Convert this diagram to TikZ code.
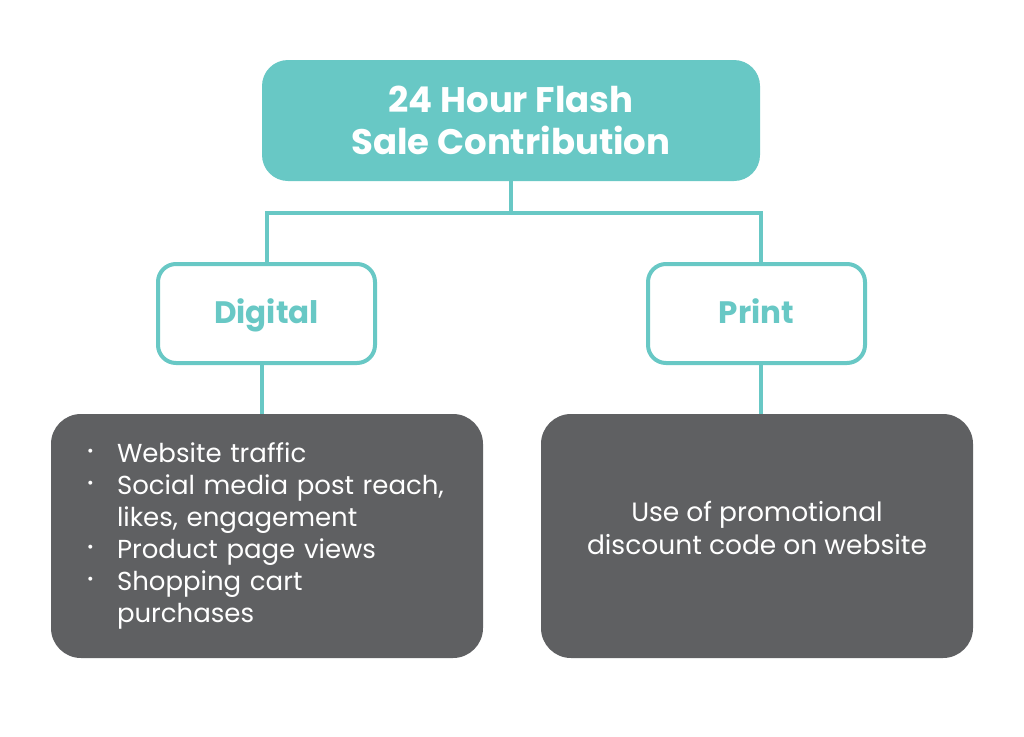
\documentclass[tikz,border=0pt]{standalone}
\usepackage{fontspec}
\setmainfont{Poppins}
\definecolor{tealc}{HTML}{68C8C5}
\definecolor{darkg}{HTML}{5F6062}
\newcommand\bul{\makebox[30pt][l]{\raisebox{6pt}{\fontsize{16}{16}\selectfont\textbullet}}}
\begin{document}
\begin{tikzpicture}[x=1pt,y=-1pt,
  titlebox/.style={fill=tealc, rounded corners=26pt, minimum width=498pt, minimum height=121pt,
    text=white, font=\bfseries\fontsize{35.5}{42}\selectfont, align=center, inner sep=0pt},
  catbox/.style={draw=tealc, line width=4pt, fill=white, rounded corners=18pt,
    minimum width=217pt, minimum height=99pt, text=tealc, text height=24pt, text depth=5pt,
    font=\bfseries\fontsize{31}{36}\selectfont, inner sep=0pt},
  detailbox/.style={fill=darkg, rounded corners=30pt, minimum width=432pt, minimum height=244pt,
    text=white, font=\fontsize{26}{32}\selectfont, inner sep=0pt},
  bodytext/.style={text=white, font=\fontsize{26.5}{33}\selectfont, inner sep=0pt, align=center},
  link/.style={draw=tealc, line width=4pt}]
\useasboundingbox (0,0) rectangle (1024,736);
\fill[white] (0,0) rectangle (1024,736);

\node[titlebox] (top) at (511,120.5) {24 Hour Flash\\Sale Contribution};
\node[catbox] (dig) at (266.5,313.5) {Digital};
\node[catbox] (pri) at (756.5,313.5) {Print};
\node[detailbox, text width=360pt, inner xsep=36pt, align=left] (dl) at (267,536)
  {\bul Website traffic\\
   \bul Social media post reach,\\
   \hspace*{30pt}likes, engagement\\
   \bul Product page views\\
   \bul Shopping cart\\
   \hspace*{30pt}purchases};
\node[detailbox] (dr) at (757,536) {};
\node[bodytext] (drtext) at (757,528) {Use of promotional\\discount code on website};

\coordinate (split) at (511,213);
\draw[link] (top.south) -- (split);
\draw[link] (dig.north) |- (split) -| ([xshift=4.5pt]pri.north);
\draw[link] ([xshift=-5pt]dig.south) -- ([xshift=-5pt]dig.south |- dl.north);
\draw[link] ([xshift=4.5pt]pri.south) -- ([xshift=4.5pt]pri.south |- dr.north);
\end{tikzpicture}
\end{document}
